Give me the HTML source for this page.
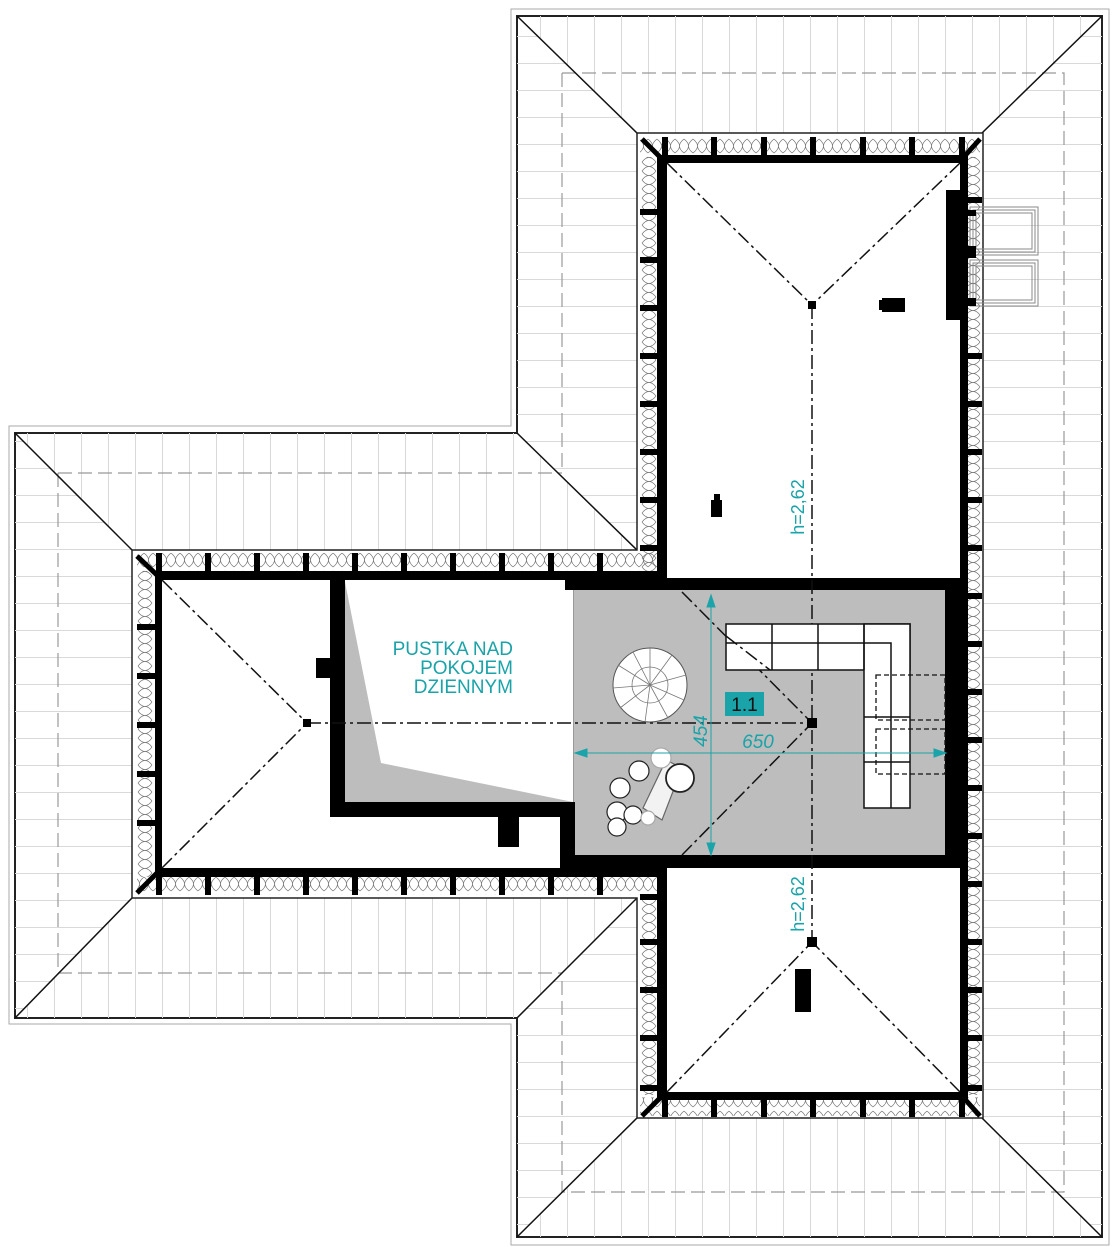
<!DOCTYPE html>
<html><head><meta charset="utf-8"><style>html,body{margin:0;padding:0;background:#fff}svg{display:block}</style></head><body>
<svg width="1119" height="1247" viewBox="0 0 1119 1247" xmlns="http://www.w3.org/2000/svg" font-family="Liberation Sans, sans-serif">
<defs>
<pattern id="vl" width="27" height="27" patternUnits="userSpaceOnUse"><line x1="0.5" y1="0" x2="0.5" y2="27" stroke="#d9d9d9" stroke-width="1"/></pattern>
<pattern id="hl" width="27" height="27" patternUnits="userSpaceOnUse" y="9"><line x1="0" y1="0.5" x2="27" y2="0.5" stroke="#d9d9d9" stroke-width="1"/></pattern>
<pattern id="insH" width="9" height="18" patternUnits="userSpaceOnUse" y="137"><path d="M0,2 Q9,9 0,16 M9,2 Q0,9 9,16" fill="none" stroke="#777" stroke-width="0.7"/></pattern>
<pattern id="insV" width="18" height="9" patternUnits="userSpaceOnUse" x="640"><path d="M2,0 Q9,9 16,0 M2,9 Q9,0 16,9" fill="none" stroke="#777" stroke-width="0.7"/></pattern>
</defs>
<polygon points="511,9 1109,9 1109,1245 511,1245 511,1024 9,1024 9,426 511,426" fill="none" stroke="#aaa" stroke-width="1"/>
<polygon points="517,16 1102,16 1102,1237 517,1237 517,1018 15,1018 15,433 517,433" fill="#fff" stroke="#222" stroke-width="2"/>
<polygon points="517,16 1102,16 982,133 637,133" fill="url(#vl)"/>
<polygon points="517,1237 1102,1237 982,1118 637,1118" fill="url(#vl)"/>
<polygon points="15,433 517,433 637,550 132,550" fill="url(#vl)"/>
<polygon points="15,1018 132,898 637,898 517,1018" fill="url(#vl)"/>
<polygon points="1102,16 1102,1237 982,1118 982,133" fill="url(#hl)"/>
<polygon points="517,16 637,133 637,550 517,433" fill="url(#hl)"/>
<polygon points="517,1018 637,898 637,1118 517,1237" fill="url(#hl)"/>
<polygon points="15,433 132,550 132,898 15,1018" fill="url(#hl)"/>
<g stroke="#999" stroke-width="1.2" stroke-dasharray="14,6" fill="none">
<path d="M562,73 H1064 V1192 H562 V975 M562,73 V473"/>
<path d="M58,473 H562 M58,973 H562 M58,473 V973"/>
</g>
<g stroke="#111" stroke-width="1.5">
<line x1="517" y1="16" x2="637" y2="133"/><line x1="1102" y1="16" x2="982" y2="133"/>
<line x1="517" y1="1237" x2="637" y2="1118"/><line x1="1102" y1="1237" x2="982" y2="1118"/>
<line x1="15" y1="433" x2="132" y2="550"/><line x1="15" y1="1018" x2="132" y2="898"/>
<line x1="517" y1="433" x2="637" y2="550"/><line x1="517" y1="1018" x2="637" y2="898"/>
</g>
<polygon points="637,133 983,133 983,1118 637,1118 637,898 132,898 132,550 637,550" fill="#fff" stroke="#222" stroke-width="1.5"/>
<rect x="640" y="137" width="340" height="20" fill="url(#insH)"/>
<rect x="640" y="1097" width="340" height="19" fill="url(#insH)"/>
<rect x="137" y="553" width="520" height="18" fill="url(#insH)"/>
<rect x="137" y="877" width="520" height="18" fill="url(#insH)"/>
<rect x="640" y="157" width="20" height="420" fill="url(#insV)"/>
<rect x="640" y="895" width="20" height="200" fill="url(#insV)"/>
<rect x="966" y="157" width="16" height="938" fill="url(#insV)"/>
<rect x="135" y="571" width="20" height="306" fill="url(#insV)"/>
<g fill="#000">
<rect x="657" y="155" width="311" height="8"/>
<rect x="657" y="155" width="10" height="425"/>
<rect x="960" y="155" width="8" height="945"/>
<rect x="657" y="866" width="10" height="234"/>
<rect x="657" y="1092" width="311" height="8"/>
<rect x="155" y="571" width="512" height="9"/>
<rect x="155" y="571" width="7" height="306"/>
<rect x="155" y="868" width="512" height="9"/>
<rect x="662" y="137" width="6" height="20"/><rect x="711" y="137" width="6" height="20"/><rect x="761" y="137" width="6" height="20"/><rect x="810" y="137" width="6" height="20"/><rect x="860" y="137" width="6" height="20"/><rect x="909" y="137" width="6" height="20"/><rect x="959" y="137" width="6" height="20"/>
<rect x="662" y="1097" width="6" height="20"/><rect x="711" y="1097" width="6" height="20"/><rect x="761" y="1097" width="6" height="20"/><rect x="810" y="1097" width="6" height="20"/><rect x="860" y="1097" width="6" height="20"/><rect x="909" y="1097" width="6" height="20"/><rect x="959" y="1097" width="6" height="20"/>
<rect x="640" y="209" width="20" height="6"/><rect x="640" y="257" width="20" height="6"/><rect x="640" y="305" width="20" height="6"/><rect x="640" y="353" width="20" height="6"/><rect x="640" y="401" width="20" height="6"/><rect x="640" y="449" width="20" height="6"/><rect x="640" y="497" width="20" height="6"/><rect x="640" y="545" width="20" height="6"/>
<rect x="966" y="353" width="16" height="6"/><rect x="966" y="401" width="16" height="6"/><rect x="966" y="449" width="16" height="6"/><rect x="966" y="497" width="16" height="6"/><rect x="966" y="545" width="16" height="6"/><rect x="966" y="593" width="16" height="6"/><rect x="966" y="641" width="16" height="6"/><rect x="966" y="689" width="16" height="6"/><rect x="966" y="737" width="16" height="6"/><rect x="966" y="785" width="16" height="6"/><rect x="966" y="833" width="16" height="6"/><rect x="966" y="881" width="16" height="6"/><rect x="966" y="939" width="16" height="6"/><rect x="966" y="987" width="16" height="6"/><rect x="966" y="1035" width="16" height="6"/><rect x="966" y="1085" width="16" height="6"/><rect x="966" y="197" width="16" height="6"/>
<rect x="640" y="894" width="20" height="6"/><rect x="640" y="939" width="20" height="6"/><rect x="640" y="987" width="20" height="6"/><rect x="640" y="1035" width="20" height="6"/><rect x="640" y="1085" width="20" height="6"/>
<rect x="156" y="553" width="6" height="18"/><rect x="205" y="553" width="6" height="18"/><rect x="254" y="553" width="6" height="18"/><rect x="303" y="553" width="6" height="18"/><rect x="352" y="553" width="6" height="18"/><rect x="401" y="553" width="6" height="18"/><rect x="450" y="553" width="6" height="18"/><rect x="499" y="553" width="6" height="18"/><rect x="548" y="553" width="6" height="18"/><rect x="597" y="553" width="6" height="18"/>
<rect x="156" y="877" width="6" height="18"/><rect x="205" y="877" width="6" height="18"/><rect x="254" y="877" width="6" height="18"/><rect x="303" y="877" width="6" height="18"/><rect x="352" y="877" width="6" height="18"/><rect x="401" y="877" width="6" height="18"/><rect x="450" y="877" width="6" height="18"/><rect x="499" y="877" width="6" height="18"/><rect x="548" y="877" width="6" height="18"/><rect x="597" y="877" width="6" height="18"/>
<rect x="137" y="624" width="18" height="6"/><rect x="137" y="673" width="18" height="6"/><rect x="137" y="722" width="18" height="6"/><rect x="137" y="771" width="18" height="6"/><rect x="137" y="820" width="18" height="6"/>
</g>
<g stroke="#000" stroke-width="5">
<line x1="642" y1="139" x2="662" y2="159"/><line x1="980" y1="139" x2="962" y2="159"/>
<line x1="642" y1="1116" x2="662" y2="1096"/><line x1="980" y1="1116" x2="962" y2="1096"/>
<line x1="137" y1="556" x2="157" y2="575"/><line x1="137" y1="893" x2="157" y2="873"/>
</g>
<rect x="946" y="190" width="14" height="130" fill="#000"/>
<g fill="none" stroke="#888" stroke-width="1">
<rect x="970" y="207" width="68" height="48"/><rect x="973" y="210" width="62" height="42"/><rect x="976" y="213" width="56" height="36"/>
<rect x="970" y="260" width="68" height="46"/><rect x="973" y="263" width="62" height="40"/><rect x="976" y="266" width="56" height="34"/>
</g>
<g fill="#000"><rect x="966" y="210" width="10" height="6"/><rect x="966" y="246" width="10" height="12"/><rect x="966" y="298" width="10" height="8"/></g>
<rect x="573" y="590" width="375" height="266" fill="#bdbdbd"/>
<g fill="#000">
<rect x="565" y="578" width="397" height="12"/>
<rect x="945" y="578" width="17" height="290"/>
<rect x="560" y="855" width="402" height="13"/>
<rect x="560" y="803" width="15" height="65"/>
<rect x="330" y="578" width="15" height="239"/>
<rect x="330" y="802" width="245" height="15"/>
<rect x="498" y="817" width="21" height="30"/>
<rect x="316" y="658" width="16" height="20"/>
<rect x="882" y="298" width="23" height="14"/><rect x="879" y="300" width="6" height="10"/>
<rect x="711" y="500" width="11" height="17"/><rect x="714" y="494" width="6" height="8"/>
<rect x="795" y="969" width="16" height="43"/>
</g>
<rect x="345" y="590" width="228" height="212" fill="#fff"/>
<line x1="573.5" y1="590" x2="573.5" y2="802" stroke="#999" stroke-width="1"/>
<polygon points="345,582 381,763 573,802 345,802" fill="#bdbdbd"/>
<text font-size="19" fill="#1aa3a8" text-anchor="end"><tspan x="513" y="655">PUSTKA NAD</tspan><tspan x="513" y="674">POKOJEM</tspan><tspan x="513" y="693">DZIENNYM</tspan></text>
<g stroke="#111" stroke-width="1.5" stroke-dasharray="14,4,3,4" fill="none">
<line x1="667" y1="163" x2="812" y2="305"/><line x1="960" y1="163" x2="812" y2="305"/>
<line x1="812" y1="305" x2="812" y2="942"/>
<line x1="162" y1="580" x2="307" y2="723"/><line x1="162" y1="868" x2="307" y2="723"/>
<line x1="307" y1="723" x2="812" y2="723"/>
<line x1="682" y1="592" x2="812" y2="723"/><line x1="682" y1="855" x2="812" y2="723"/>
<line x1="667" y1="1092" x2="812" y2="942"/><line x1="960" y1="1092" x2="812" y2="942"/>
</g>
<g fill="#000"><rect x="808" y="301" width="8" height="8"/><rect x="303" y="719" width="8" height="8"/><rect x="807" y="718" width="10" height="10"/><rect x="807" y="937" width="10" height="10"/></g>
<g fill="#fff" stroke="#111" stroke-width="1.5">
<rect x="726" y="624" width="184" height="46"/>
<rect x="864" y="624" width="46" height="184"/>
</g>
<g stroke="#111" stroke-width="1.5" fill="none">
<path d="M726,643 H891 V808 M772,624 V670 M818,624 V670 M864,624 V670 M864,717 H910 M864,762 H910"/>
<line x1="726" y1="636" x2="770" y2="670" stroke-dasharray="14,4,3,4"/>
</g>
<g fill="none" stroke="#111" stroke-width="1.3" stroke-dasharray="5,3"><rect x="876" y="675" width="69" height="45"/><rect x="876" y="729" width="69" height="45"/></g>
<circle cx="650" cy="685" r="37" fill="#fff" stroke="#555" stroke-width="1"/>
<g stroke="#777" stroke-width="0.8"><line x1="650" y1="685" x2="650" y2="648"/><line x1="650" y1="685" x2="672" y2="655"/><line x1="650" y1="685" x2="686" y2="675"/><line x1="650" y1="685" x2="684" y2="700"/><line x1="650" y1="685" x2="668" y2="718"/><line x1="650" y1="685" x2="645" y2="722"/><line x1="650" y1="685" x2="620" y2="708"/><line x1="650" y1="685" x2="613" y2="688"/><line x1="650" y1="685" x2="618" y2="665"/><line x1="650" y1="685" x2="633" y2="652"/></g>
<circle cx="650" cy="685" r="18" fill="none" stroke="#777" stroke-width="0.8"/>
<g stroke="#222" stroke-width="1.2" fill="#fff">
<polygon points="643,808 666,760 682,768 662,820" fill="#f2f2f2" stroke="#666"/>
<circle cx="661" cy="758" r="10" stroke="#aaa"/>
<circle cx="639" cy="771" r="10"/>
<circle cx="620" cy="788" r="10"/>
<circle cx="680" cy="778" r="14" stroke-width="1.8"/>
<circle cx="617" cy="812" r="10"/>
<circle cx="633" cy="815" r="9"/>
<circle cx="617" cy="827" r="9"/>
<circle cx="648" cy="818" r="7" stroke="#aaa"/>
</g>
<g stroke="#1aa3a8" stroke-width="1" fill="#1aa3a8">
<line x1="711" y1="596" x2="711" y2="853"/><line x1="576" y1="753" x2="944" y2="753"/>
<polygon points="711,595 707,607 715,607"/><polygon points="711,855 707,843 715,843"/>
<polygon points="575,753 587,749 587,757"/><polygon points="946,753 934,749 934,757"/>
</g>
<rect x="725" y="692" width="39" height="24" fill="#1aa3a8"/>
<text x="744.5" y="711" font-size="19" fill="#111" text-anchor="middle">1.1</text>
<text x="758" y="748" font-size="19" font-style="italic" fill="#1aa3a8" text-anchor="middle">650</text>
<text transform="translate(707,731) rotate(-90)" font-size="19" font-style="italic" fill="#1aa3a8" text-anchor="middle">454</text>
<text transform="translate(804,507) rotate(-90)" font-size="18" fill="#1aa3a8" text-anchor="middle">h=2,62</text>
<text transform="translate(804,904) rotate(-90)" font-size="18" fill="#1aa3a8" text-anchor="middle">h=2,62</text>
</svg>
</body></html>
